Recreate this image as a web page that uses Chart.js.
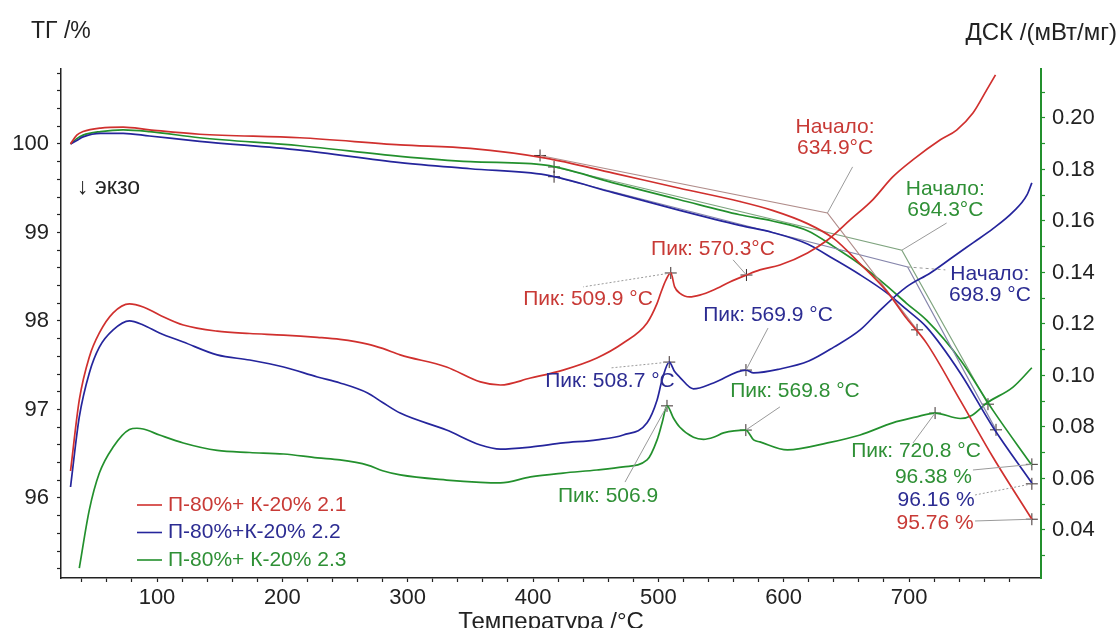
<!DOCTYPE html>
<html>
<head>
<meta charset="utf-8">
<title>ТГ / ДСК</title>
<script src="https://cdn.jsdelivr.net/npm/chart.js@4.4.1/dist/chart.umd.min.js"></script>
<style>
	html, body { margin: 0; padding: 0; background: #fff; }
</style>
</head>
<body>
<canvas id="chart-tg-dsc" width="1120" height="628"></canvas>
<script>
// ---- values ----
var samples = ['П-80%+ К-20% 2.1', 'П-80%+К-20% 2.2', 'П-80%+ К-20% 2.3'];

// ТГ /% (left axis), one temperature grid for the three samples
var tgTemp  = [31, 36, 41, 55, 73, 94, 134, 214, 294, 350, 410, 464, 517, 565, 591, 619, 640, 660, 682, 698, 714, 741, 767, 798];
var tgRed   = [100.00, 100.10, 100.14, 100.18, 100.19, 100.16, 100.11, 100.07, 99.99, 99.95, 99.84, 99.67, 99.50, 99.35, 99.25, 99.10, 98.93, 98.66, 98.34, 98.03, 97.75, 97.10, 96.46, 95.76];
var tgBlue  = [100.00, 100.04, 100.08, 100.12, 100.12, 100.09, 100.03, 99.93, 99.79, 99.72, 99.65, 99.45, 99.25, 99.08, 99.00, 98.87, 98.70, 98.53, 98.32, 98.13, 97.93, 97.41, 96.80, 96.17];
var tgGreen = [100.00, 100.06, 100.10, 100.14, 100.16, 100.14, 100.07, 99.98, 99.86, 99.80, 99.76, 99.56, 99.37, 99.20, 99.13, 99.02, 98.84, 98.65, 98.40, 98.20, 98.01, 97.56, 96.99, 96.37];

// ДСК /(мВт/мг) (right axis)
var dscTempRed = [31, 38, 46, 54, 65, 78, 89, 102, 121, 148, 174, 201, 228, 246, 268, 280, 294, 331, 358, 374, 398, 424, 451, 472, 491, 499, 502, 506, 509.9, 513, 517, 525, 533, 544, 557, 570.3, 581, 597, 619, 635, 653, 671, 687, 703, 725, 738, 751, 762, 769];
var dscRed     = [0.0629, 0.0905, 0.1072, 0.1165, 0.1243, 0.1278, 0.1266, 0.1235, 0.1196, 0.1172, 0.1163, 0.1157, 0.1148, 0.1140, 0.1122, 0.1105, 0.1080, 0.1033, 0.0975, 0.0963, 0.0990, 0.1021, 0.1068, 0.1126, 0.1204, 0.1280, 0.1321, 0.1370, 0.1398, 0.1344, 0.1320, 0.1305, 0.1312, 0.1332, 0.1363, 0.1390, 0.1410, 0.1429, 0.1476, 0.1526, 0.1604, 0.1682, 0.1771, 0.1837, 0.1915, 0.1953, 0.2019, 0.2109, 0.2167];
var dscTempBlue = [31, 38, 46, 54, 65, 78, 89, 102, 121, 148, 174, 201, 228, 246, 268, 280, 294, 331, 358, 374, 398, 424, 451, 472, 491, 499, 503, 508.7, 513, 517, 528, 544, 569.9, 576, 597, 620, 640, 661, 677, 698, 717, 735, 751, 767, 783, 794, 798];
var dscBlue     = [0.0567, 0.0839, 0.1010, 0.1110, 0.1177, 0.1212, 0.1196, 0.1165, 0.1130, 0.1080, 0.1060, 0.1033, 0.0994, 0.0971, 0.0932, 0.0895, 0.0854, 0.0788, 0.0730, 0.0714, 0.0722, 0.0738, 0.0750, 0.0769, 0.0816, 0.0905, 0.0983, 0.1052, 0.1015, 0.0994, 0.0948, 0.0971, 0.1021, 0.1010, 0.1025, 0.1056, 0.1110, 0.1177, 0.1254, 0.1344, 0.1398, 0.1460, 0.1515, 0.1570, 0.1635, 0.1700, 0.1748];
var dscTempGreen = [38, 46, 54, 65, 78, 84, 89, 102, 121, 148, 174, 201, 228, 246, 268, 280, 294, 331, 358, 374, 398, 424, 451, 472, 491, 499, 503, 506.9, 512, 517, 528, 536, 544, 552, 569.8, 576, 581, 603, 635, 661, 687, 705, 720.8, 741, 750, 762, 783, 798];
var dscGreen     = [0.0252, 0.0478, 0.0621, 0.0722, 0.0790, 0.0795, 0.0792, 0.0769, 0.0738, 0.0709, 0.0701, 0.0695, 0.0680, 0.0672, 0.0652, 0.0630, 0.0614, 0.0594, 0.0585, 0.0583, 0.0606, 0.0621, 0.0633, 0.0645, 0.0672, 0.0750, 0.0816, 0.0882, 0.0835, 0.0800, 0.0760, 0.0752, 0.0760, 0.0777, 0.0788, 0.0750, 0.0742, 0.0711, 0.0738, 0.0769, 0.0816, 0.0838, 0.0854, 0.0833, 0.0845, 0.0893, 0.0955, 0.1030];

// onset constructions on TG (red, blue, green): tangent start, onset, tangent end
var tanStartT  = [405.6, 416.8, 416.8];
var tanStartTG = [99.87, 99.63, 99.74];
var onsetT     = [634.9, 698.9, 694.3];
var onsetTG    = [99.22, 98.61, 98.80];
var tanEndT    = [706.4, 769.4, 763.0];
var tanEndTG   = [97.90, 96.77, 97.06];

// residual mass at the end of the run (red, blue, green)
var endT = 798;
var residual = [95.76, 96.16, 96.38];

// DSC peaks
var peakT   = [509.9, 570.3, 508.7, 569.9, 506.9, 569.8, 720.8];
var peakDsc = [0.1398, 0.1390, 0.1052, 0.1021, 0.0882, 0.0788, 0.0854];

// tick labels
var tempLabels = [100, 200, 300, 400, 500, 600, 700];
var tgLabels   = [96, 97, 98, 99, 100];
var dscLabels  = [0.04, 0.06, 0.08, 0.10, 0.12, 0.14, 0.16, 0.18, 0.20];

// ---- styles ----
var font = "'Liberation Sans', Arial, sans-serif";
var red = '#d0302e', blue = '#25259c', green = '#23902d';
var txtRed = '#c83a36', txtBlue = '#2c2c92', txtGreen = '#2f9036';
var tanColor = ['#b08c8a', '#8686ac', '#7fa47f'];
var lineColor = [red, blue, green];
var textColor = [txtRed, txtBlue, txtGreen];

function pts(ts, vs) {
	return ts.map(function (t, i) { return { x: t, y: vs[i] }; });
}
function steps(from, to, step) {
	var out = [];
	for (var v = from; v <= to + step / 2; v += step) out.push(Math.round(v * 1000) / 1000);
	return out;
}
function isIn(list, v) {
	return list.some(function (l) { return Math.abs(l - v) < 1e-6; });
}

// text labels with leader lines; label position in (°C, ДСК)
var notes = [
	{ text: ['Начало:', '634.9°C'], color: txtRed, at: [641, 0.1965], from: ['y', onsetT[0], onsetTG[0]], to: [655, 0.1810] },
	{ text: ['Начало:', '694.3°C'], color: txtGreen, at: [729, 0.1724], from: ['y', onsetT[2], onsetTG[2]], to: [730, 0.1592] },
	{ text: ['Начало:', '698.9 °C'], color: txtBlue, at: [764.5, 0.1394], from: ['y', onsetT[1], onsetTG[1]], to: [729, 0.1410], dash: [3, 3] },
	{ text: ['Пик: 570.3°C'], color: txtRed, at: [543.6, 0.1491], from: ['yR', peakT[1], peakDsc[1]], to: [559.6, 0.1449] },
	{ text: ['Пик: 509.9 °C'], color: txtRed, at: [443.9, 0.1297], from: ['yR', peakT[0], peakDsc[0]], to: [440, 0.1344], dash: [2, 2] },
	{ text: ['Пик: 569.9 °C'], color: txtBlue, at: [587.5, 0.1235], from: ['yR', peakT[3], peakDsc[3]], to: [587.5, 0.1184] },
	{ text: ['Пик: 508.7 °C'], color: txtBlue, at: [461.4, 0.0979], from: ['yR', peakT[2], peakDsc[2]], to: [461.4, 0.1029], dash: [2, 2] },
	{ text: ['Пик: 569.8 °C'], color: txtGreen, at: [609, 0.0940], from: ['yR', peakT[5], peakDsc[5]], to: [597, 0.0878] },
	{ text: ['Пик: 506.9'], color: txtGreen, at: [459.9, 0.0532], from: ['yR', peakT[4], peakDsc[4]], to: [473.4, 0.0586] },
	{ text: ['Пик: 720.8 °C'], color: txtGreen, at: [705.6, 0.0707], from: ['yR', peakT[6], peakDsc[6]], to: [703.2, 0.0738] },
	{ text: ['96.38 %'], color: txtGreen, at: [719.5, 0.0606], from: ['y', endT, residual[2]], to: [751, 0.0633] },
	{ text: ['96.16 %'], color: txtBlue, at: [721.6, 0.0517], from: ['y', endT, residual[1]], to: [752.7, 0.0536], dash: [2, 2] },
	{ text: ['95.76 %'], color: txtRed, at: [720.8, 0.0427], from: ['y', endT, residual[0]], to: [752.7, 0.0435] }
];

// titles, legend and labels drawn over the chart
var overlay = {
	id: 'overlay',
	afterDatasetsDraw: function (chart) {
		var ctx = chart.ctx;
		var sx = chart.scales.x, sy = chart.scales.y, sr = chart.scales.yR;
		ctx.save();

		// leader lines
		notes.forEach(function (n) {
			var fy = n.from[0] === 'y' ? sy : sr;
			ctx.beginPath();
			ctx.setLineDash(n.dash || []);
			ctx.strokeStyle = '#9a9a9a';
			ctx.lineWidth = 1;
			ctx.moveTo(sx.getPixelForValue(n.from[1]), fy.getPixelForValue(n.from[2]));
			ctx.lineTo(sx.getPixelForValue(n.to[0]), sr.getPixelForValue(n.to[1]));
			ctx.stroke();
		});
		ctx.setLineDash([]);

		// label texts
		ctx.font = '21px ' + font;
		ctx.textAlign = 'center';
		ctx.textBaseline = 'middle';
		notes.forEach(function (n) {
			var px = sx.getPixelForValue(n.at[0]), py = sr.getPixelForValue(n.at[1]);
			ctx.fillStyle = n.color;
			n.text.forEach(function (s, i) { ctx.fillText(s, px, py + i * 21); });
		});

		// axis titles
		ctx.fillStyle = '#222';
		ctx.font = '23px ' + font;
		ctx.textAlign = 'left';
		ctx.fillText('ТГ /%', 31, 32);
		ctx.fillText('\u2193 экзо', 77, 188);
		ctx.textAlign = 'right';
		ctx.font = '24px ' + font;
		ctx.fillText('ДСК /(мВт/мг)', 1117, 33);

		// legend
		ctx.font = '21px ' + font;
		ctx.textAlign = 'left';
		samples.forEach(function (s, i) {
			var y = 505 + i * 27.5;
			ctx.strokeStyle = lineColor[i];
			ctx.lineWidth = 1.6;
			ctx.beginPath();
			ctx.moveTo(137, y);
			ctx.lineTo(162, y);
			ctx.stroke();
			ctx.fillStyle = textColor[i];
			ctx.fillText(s, 168, y);
		});
		ctx.restore();
	}
};

var datasets = [];
var tgSeries = [tgRed, tgBlue, tgGreen];
var dscTemps = [dscTempRed, dscTempBlue, dscTempGreen];
var dscSeries = [dscRed, dscBlue, dscGreen];

for (var i = 0; i < 3; i++) {
	datasets.push({
		label: samples[i] + ' ТГ',
		data: pts(tgTemp, tgSeries[i]),
		yAxisID: 'y',
		borderColor: lineColor[i],
		borderWidth: 1.7,
		pointRadius: 0,
		cubicInterpolationMode: 'monotone'
	});
	datasets.push({
		label: samples[i] + ' ДСК',
		data: pts(dscTemps[i], dscSeries[i]),
		yAxisID: 'yR',
		borderColor: lineColor[i],
		borderWidth: 1.7,
		pointRadius: 0,
		cubicInterpolationMode: 'monotone'
	});
	// onset tangents
	datasets.push({
		label: 'onset ' + i,
		data: pts([tanStartT[i], onsetT[i], tanEndT[i]], [tanStartTG[i], onsetTG[i], tanEndTG[i]]),
		yAxisID: 'y',
		borderColor: tanColor[i],
		borderWidth: 1.2,
		pointRadius: 0,
		tension: 0
	});
}

// "+" markers
datasets.push({
	label: 'TG marks',
	data: pts(tanStartT.concat(tanEndT, [endT, endT, endT]), tanStartTG.concat(tanEndTG, residual)),
	yAxisID: 'y',
	showLine: false,
	pointStyle: 'cross',
	pointRadius: 6,
	borderColor: '#3a2e2e',
	borderWidth: 1
});
datasets.push({
	label: 'DSC peaks',
	data: pts(peakT, peakDsc),
	yAxisID: 'yR',
	showLine: false,
	pointStyle: 'cross',
	pointRadius: 6,
	borderColor: '#3a2e2e',
	borderWidth: 1
});

var tickFont = { family: font, size: 22 };

var chart = new Chart(document.getElementById('chart-tg-dsc'), {
	type: 'line',
	data: { datasets: datasets },
	options: {
		responsive: false,
		animation: false,
		layout: { padding: { top: 69, left: 0, right: 0, bottom: 0 } },
		plugins: {
			legend: { display: false },
			tooltip: { enabled: false }
		},
		scales: {
			x: {
				type: 'linear',
				position: 'bottom',
				min: 23.4,
				max: 805.3,
				afterBuildTicks: function (axis) {
					axis.ticks = steps(40, 780, 20).map(function (v) { return { value: v }; });
				},
				afterFit: function (axis) { axis.height = 50; },
				ticks: {
					autoSkip: false,
					maxRotation: 0,
					padding: 3,
					color: '#222',
					font: tickFont,
					callback: function (v) { return isIn(tempLabels, v) ? String(v) : ''; }
				},
				grid: { drawOnChartArea: false, tickLength: 4, tickColor: '#222', tickWidth: 1.2 },
				border: { display: true, color: '#222', width: 1.5 },
				title: {
					display: true,
					text: 'Температура /°C',
					color: '#222',
					padding: 0,
					font: { family: font, size: 24, lineHeight: 0.5 }
				}
			},
			y: {
				type: 'linear',
				position: 'left',
				min: 95.096,
				max: 100.847,
				afterBuildTicks: function (axis) {
					axis.ticks = steps(95.2, 100.8, 0.2).map(function (v) { return { value: v }; });
				},
				afterFit: function (axis) { axis.width = 61; },
				ticks: {
					autoSkip: false,
					padding: 8,
					color: '#222',
					font: tickFont,
					callback: function (v) { return isIn(tgLabels, v) ? String(Math.round(v)) : ''; }
				},
				grid: { drawOnChartArea: false, tickLength: 4, tickColor: '#222', tickWidth: 1.2 },
				border: { display: true, color: '#222', width: 1.5 }
			},
			yR: {
				type: 'linear',
				position: 'right',
				min: 0.02136,
				max: 0.2190,
				afterBuildTicks: function (axis) {
					axis.ticks = steps(0.03, 0.21, 0.01).map(function (v) { return { value: v }; });
				},
				afterFit: function (axis) { axis.width = 79; },
				ticks: {
					autoSkip: false,
					padding: 7,
					color: '#222',
					font: tickFont,
					callback: function (v) { return isIn(dscLabels, v) ? v.toFixed(2) : ''; }
				},
				grid: { drawOnChartArea: false, tickLength: 4, tickColor: green, tickWidth: 1.2 },
				border: { display: true, color: green, width: 2 }
			}
		}
	},
	plugins: [overlay]
});
</script>
</body>
</html>
